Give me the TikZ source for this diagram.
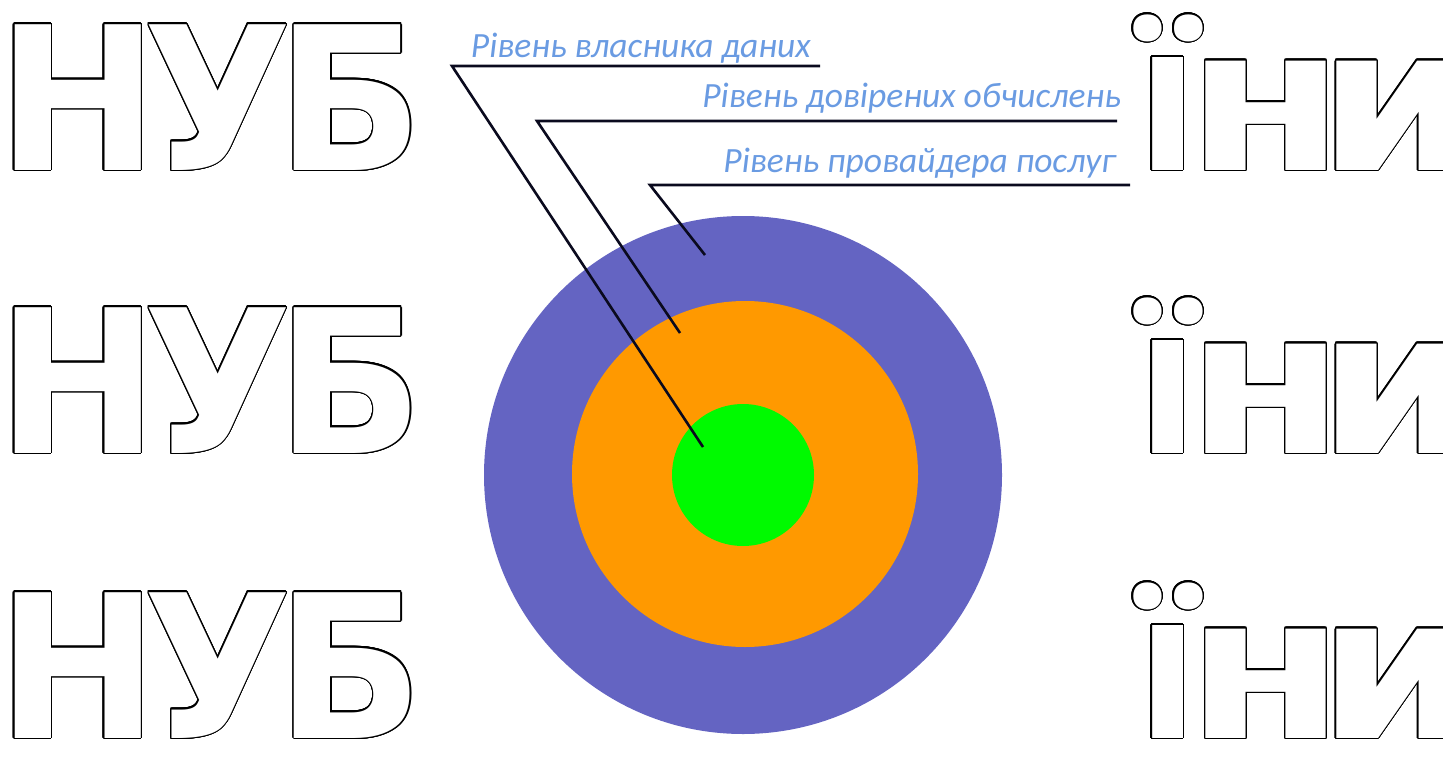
\documentclass[tikz,border=0pt]{standalone}
\usepackage{graphicx}
\usepackage{fontspec}
\setmainfont{Carlito}
\newfontfamily\wmfont{DejaVu Sans}
\newfontfamily\wmfontb{Open Sans}
\usepackage[copies]{contour}
\contourlength{1.3pt}
\contournumber{24}
\definecolor{outerc}{RGB}{100,100,194}
\definecolor{midc}{RGB}{255,153,0}
\definecolor{innerc}{RGB}{0,250,0}
\definecolor{labc}{RGB}{106,155,226}
\definecolor{linec}{RGB}{10,10,30}
\newcommand{\wmleft}{\scalebox{0.965}[1]{\contour{black}{\textcolor{white}{Н\kern-16ptУ\kern-16ptБ}}}}
\newcommand{\wmright}{\contour{black}{\textcolor{white}{{\wmfontb\fontsize{207}{220}\selectfont ї}\kern-13pt\scalebox{1.15}[1]{н}\kern-28pt\scalebox{1.15}[1]{и}}}}
\begin{document}
\begin{tikzpicture}[x=1pt,y=-1pt,
  wm/.style={anchor=base west,inner sep=0pt,font=\wmfont\bfseries\fontsize{200}{220}\selectfont},
  lab/.style={anchor=base east,inner sep=0pt,text=labc,font=\itshape\fontsize{35.5}{40}\selectfont},
  ring/.style={circle,inner sep=0pt,draw=none},
  lead/.style={draw=linec,line width=2.6pt}]
\useasboundingbox (0,0) rectangle (1443,776);
\clip (0,0) rectangle (1443,776);
% watermark
\node[wm] (wl1) at (-3,170) {\wmleft};
\node[wm] (wl2) at (-3,453) {\wmleft};
\node[wm] (wl3) at (-3,738) {\wmleft};
\node[wm] (wr1) at (1136,170) {\wmright};
\node[wm] (wr2) at (1136,453) {\wmright};
\node[wm] (wr3) at (1136,738) {\wmright};
% rings
\node[ring,fill=outerc,minimum size=518pt] (outer) at (743,475) {};
\node[ring,fill=midc,minimum size=346pt] (mid) at (745,474) {};
\node[ring,fill=innerc,minimum size=142pt] (inner) at (743,475) {};
% labels
\node[lab] (l1) at (811,58) {Рівень власника даних};
\node[lab] (l2) at (1121,107) {Рівень довірених обчислень};
\node[lab] (l3) at (1116,172) {Рівень провайдера послуг};
\coordinate (u1s) at (452,66); \coordinate (u1e) at (820,66);
\coordinate (u2s) at (537,121); \coordinate (u2e) at (1117,121);
\coordinate (u3s) at (650,185); \coordinate (u3e) at (1130,185);
\coordinate (t1) at (703,447);
\coordinate (t2) at (680,333);
\coordinate (t3) at (705,255);
\draw[lead] (u1e) -- (u1s) -- (t1);
\draw[lead] (u2e) -- (u2s) -- (t2);
\draw[lead] (u3e) -- (u3s) -- (t3);
\end{tikzpicture}
\end{document}
